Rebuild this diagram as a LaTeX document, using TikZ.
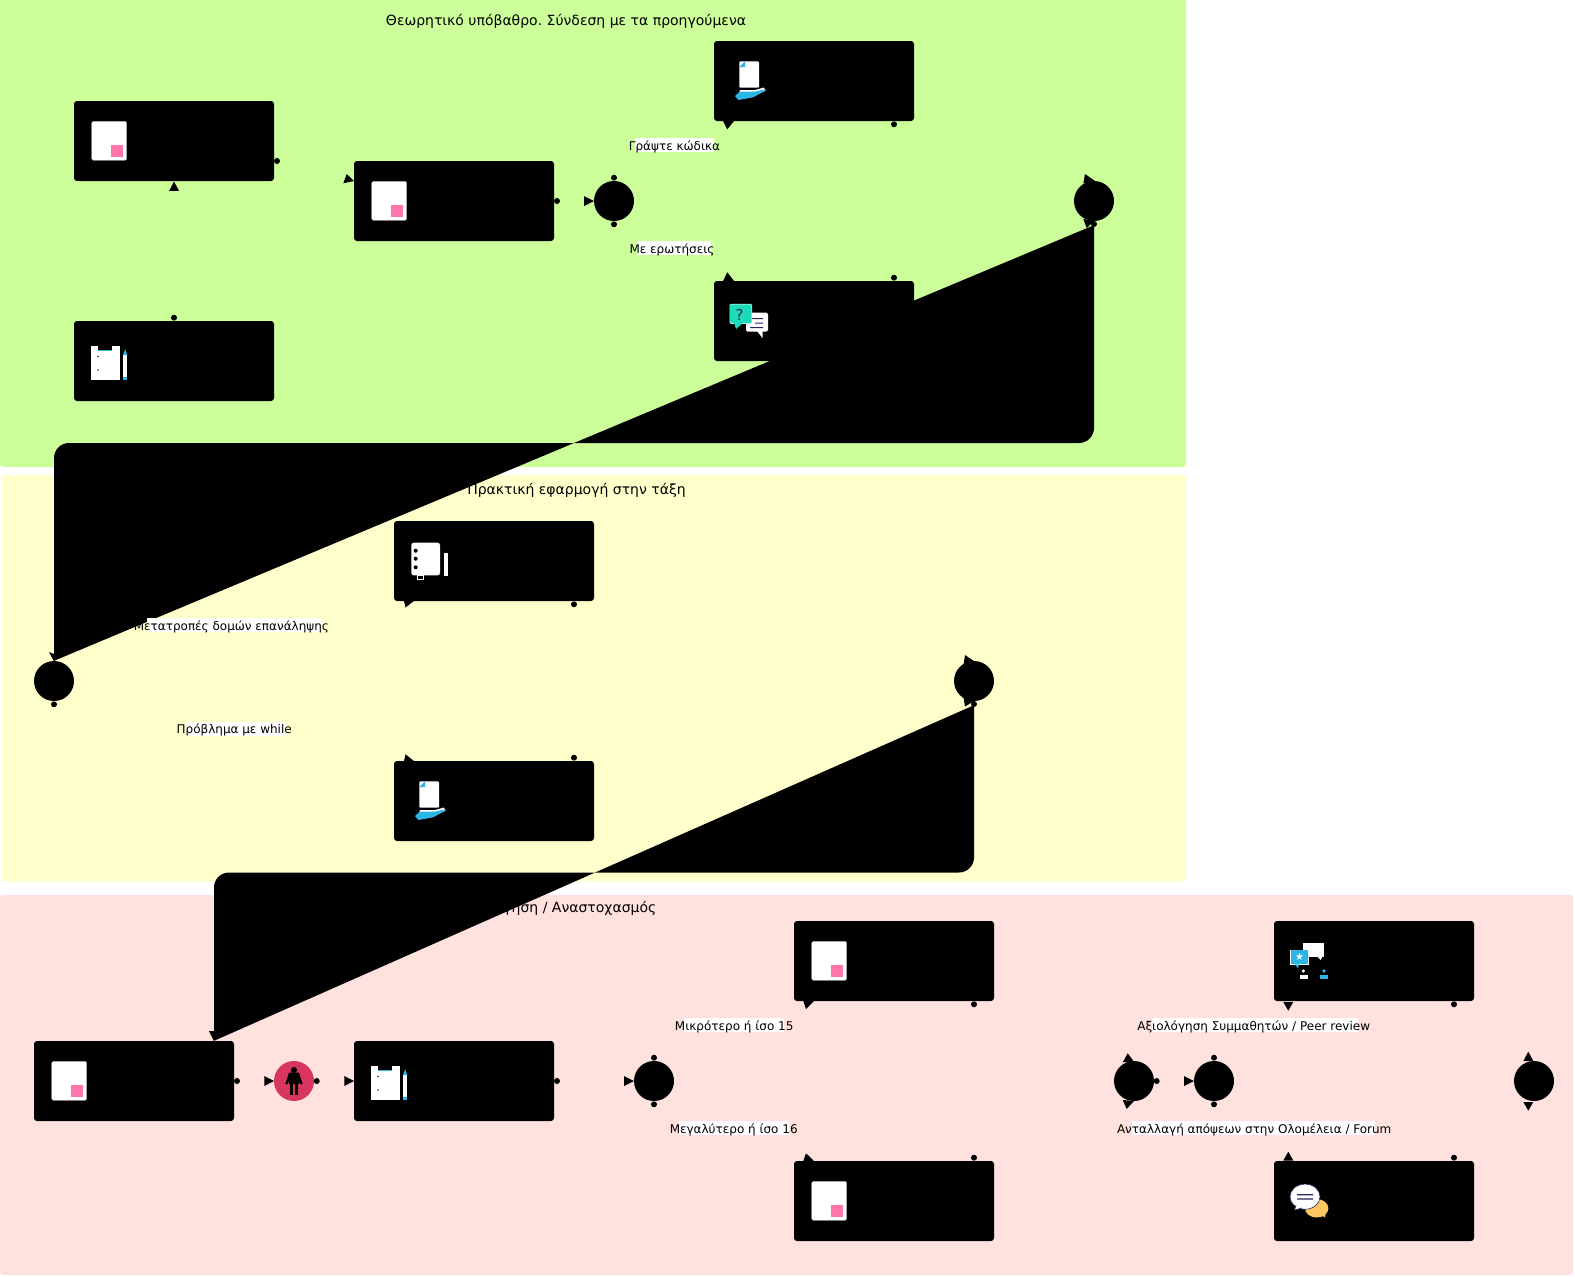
\documentclass[tikz,border=0pt]{standalone}
\usepackage{fontspec}
\setmainfont{DejaVu Sans}
\usetikzlibrary{calc}
\definecolor{bandgreen}{HTML}{CCFF99}
\definecolor{bandyellow}{HTML}{FFFFCC}
\definecolor{bandpink}{HTML}{FFE1DE}
\definecolor{iconpink}{HTML}{FF77AA}
\definecolor{iconblue}{HTML}{2BB6E6}
\definecolor{iconteal}{HTML}{1DDBB9}
\definecolor{iconnavy}{HTML}{26265E}
\definecolor{iconyellow}{HTML}{FFC75F}
\definecolor{humanred}{HTML}{D9365F}
\tikzset{
  x=1pt,y=-1pt,
  band/.style={rounded corners=3pt},
  title/.style={font=\fontsize{14}{16}\selectfont\frenchspacing,inner sep=0pt,text=black},
  edgelabel/.style={font=\fontsize{12}{14}\selectfont,inner sep=0pt,text=black},
  taskbox/.style={draw=none,fill=black,rounded corners=3pt,minimum width=200pt,minimum height=80pt,inner sep=0pt},
  gate/.style={circle,draw=none,fill=black,minimum size=40pt,inner sep=0pt},
  human/.style={circle,draw=none,fill=humanred,minimum size=40pt,inner sep=0pt},
  flowfill/.style={fill=black,draw=none},
  tip/.style={fill=black,draw=none},
  dotend/.style={fill=black,draw=none},
  docicon/.pic={
    \fill[white,draw=black!30,line width=.3pt,rounded corners=1.5pt] (17.7,20.3) rectangle (52.7,59.3);
    \fill[iconpink] (37,44) rectangle (49.3,55.7);
  },
  clipicon/.pic={
    \fill[white] (16.7,25) rectangle (46,59.3);
    \fill[black] (24.3,24.5) rectangle (38.3,29);
    \fill[iconblue] (24.3,29) rectangle (38.3,29.7);
    \fill[black!80] (24,35.5) circle (.8);
    \fill[black!80] (24,49) circle (.8);
    \fill[white] (49,34) rectangle (53.3,55.7);
    \fill[iconblue] (49,34) -- (51.2,28.3) -- (53.3,34) -- cycle;
    \fill[iconblue] (49,56) rectangle (53.3,59.3);
  },
  handicon/.pic={
    \fill[white,rounded corners=1pt] (25.3,20.3) rectangle (45,46.7);
    \fill[iconblue] (25.3,26) -- (31,20.3) -- (31,26) -- cycle;
    \fill[white] (26,49) -- (41,49) -- (50,46.5) -- (51.5,49.7) -- (40,55) -- (24,55) -- cycle;
    \fill[iconblue] (21,55) -- (26,50.5) -- (41,50.5) -- (50,48.5) -- (51,49.7) -- (39.3,56.3) -- (24.3,59) -- cycle;
  },
  askicon/.pic={
    \fill[white,rounded corners=1.5pt] (32,31.7) rectangle (54,50.7);
    \fill[white] (43,50) -- (48.7,57.3) -- (48.7,50) -- cycle;
    \fill[iconnavy] (38,37) rectangle (49,38) (41,41.5) rectangle (49,42.5) (36,46) rectangle (49,47);
    \fill[white,rounded corners=1.5pt] (15.5,22.8) rectangle (38.2,42.8);
    \fill[iconteal,rounded corners=1.5pt] (16,23.3) rectangle (37.7,42.3);
    \fill[iconteal] (20,42) -- (22,48) -- (29,42) -- cycle;
    \node[inner sep=0pt,text=iconnavy,font=\fontsize{15}{15}\selectfont] at (25.5,33.5) {?};
  },
  bookicon/.pic={
    \fill[white,rounded corners=2.5pt] (17.3,21.7) rectangle (46,54.3);
    \fill[black] (21.7,29.7) circle (2) (21.7,37.7) circle (2) (21.7,46.3) circle (2);
    \fill[white] (50,31.7) rectangle (54,55);
    \draw[white,line width=.7pt] (23,54.3) rectangle (29,58);
  },
  peericon/.pic={
    \fill[white] (29,22.3) rectangle (50,35.7);
    \fill[white] (43.3,35.7) -- (48.3,35.7) -- (46.7,39) -- cycle;
    \fill[white] (16.2,28.5) rectangle (34.5,43.8);
    \fill[iconblue] (17,29.3) rectangle (34,43.3);
    \fill[iconblue] (20.7,43.3) -- (25,43.3) -- (24,47.3) -- cycle;
    \node[inner sep=0pt,text=white,font=\fontsize{10}{10}\selectfont] at (25.5,36) {★};
    \fill[white] (29.3,50) circle (1.8);
    \fill[white] (25.7,54.3) rectangle (34,58);
    \fill[iconblue] (50,50) circle (1.8);
    \fill[iconblue] (46,54.3) rectangle (54.3,58);
  },
  forumicon/.pic={
    \fill[iconyellow] (42.7,47.3) ellipse (11.7 and 9.2);
    \fill[iconyellow] (47,54) -- (51,56.5) -- (52,50) -- cycle;
    \fill[white,draw=iconnavy,line width=.6pt] (31,35.7) ellipse (15 and 12.6);
    \fill[white,draw=iconnavy,line width=.6pt] (22,44) -- (20.5,49) -- (28,47);
    \fill[iconnavy] (23,33) rectangle (39,34.3) (23,37.3) rectangle (39,38.6);
  },
  manicon/.pic={
    \fill[black] (0,-11) circle (3);
    \fill[black] (-5,-8.3) -- (5,-8.3) -- (8.7,3) -- (6.7,3.5) -- (5,0) -- (5,3) -- (-5,3) -- (-5,0) -- (-6.7,3.5) -- (-8.7,3) -- cycle;
    \fill[black] (-4,3) rectangle (-.7,14);
    \fill[black] (.7,3) rectangle (4,14);
  },
}
\newcommand{\flowdot}[2]{\fill[dotend] (#1,#2) circle (3);}
\newcommand{\flowtip}[6]{\fill[tip] (#1,#2) -- (#3,#4) -- (#5,#6) -- cycle;}
\newcommand{\whitelabel}[9]{%
  \fill[white] (#3,#4) rectangle (#5,#6);
  \node[edgelabel] (#1) at (#7,#8) {#9};}
\begin{document}
\begin{tikzpicture}
\useasboundingbox (0,0) rectangle (1575,1277);
% bands
\fill[bandgreen,band] (0,-4) rectangle (1186,467);
\fill[bandyellow,band] (2,475) rectangle (1186,881.5);
\fill[bandpink,band] (0,895) rectangle (1573,1275);
\node[title] (t1) at (566,21.5) {Θεωρητικό υπόβαθρο. Σύνδεση με τα προηγούμενα};
\node[title] (t2) at (576.5,490.5) {Πρακτική εφαρμογή στην τάξη};
\node[title,anchor=east] (t3) at (656.5,908) {Αξιολόγηση / Αναστοχασμός};
% gateways
\node[gate] (g1) at (614,201) {};
\node[gate] (g2) at (1094,201) {};
\node[gate] (g3) at (54,681) {};
\node[gate] (g4) at (974,681) {};
\node[gate] (g5) at (654,1081) {};
\node[gate] (g6) at (1134,1081) {};
\node[gate] (g7) at (1214,1081) {};
\node[gate] (g8) at (1534,1081) {};
\node[human] (man) at (294,1081) {};
\pic at (294,1081) {manicon};
% large filled flows
\coordinate (f1a) at (1094,443);
\coordinate (f1b) at (54,443);
\coordinate (f2a) at (974,872.5);
\coordinate (f2b) at (214,872.5);
% tasks
\node[taskbox] (a) at (174,141) {};
\node[taskbox] (e) at (174,361) {};
\node[taskbox] (b) at (454,201) {};
\node[taskbox] (c) at (814,81) {};
\node[taskbox] (d) at (814,321) {};
\node[taskbox] (f) at (494,561) {};
\node[taskbox] (h) at (494,801) {};
\node[taskbox] (j) at (134,1081) {};
\node[taskbox] (k) at (454,1081) {};
\node[taskbox] (m) at (894,961) {};
\node[taskbox] (n) at (894,1201) {};
\node[taskbox] (p) at (1374,961) {};
\node[taskbox] (q) at (1374,1201) {};
\fill[flowfill] ($(g2.south)+(0,4)$) -- ($(f1a)+(0,-15)$) arc[start angle=0,end angle=90,radius=15] -- ($(f1b)+(15,0)$) arc[start angle=-90,end angle=-180,radius=15] -- (g3.north) -- cycle;
\fill[flowfill] ($(g4.south)+(0,4)$) -- ($(f2a)+(0,-15)$) arc[start angle=0,end angle=90,radius=15] -- ($(f2b)+(15,0)$) arc[start angle=-90,end angle=-180,radius=15] -- (j.north east -| f2b) -- cycle;
% icons
\pic at (74,101) {docicon};
\pic at (354,161) {docicon};
\pic at (74,321) {clipicon};
\pic at (714,41) {handicon};
\pic at (714,281) {askicon};
\pic at (394,521) {bookicon};
\pic at (394,761) {handicon};
\pic at (34,1041) {docicon};
\pic at (354,1041) {clipicon};
\pic at (794,921) {docicon};
\pic at (794,1161) {docicon};
\pic at (1274,921) {peericon};
\pic at (1274,1161) {forumicon};
% end markers
\flowdot{277}{161}\flowdot{174}{317.7}\flowdot{557}{201}
\flowdot{614}{177.7}\flowdot{614}{224.3}
\flowdot{894}{124.3}\flowdot{894}{277.7}\flowdot{1094}{224}
\flowdot{54}{704.3}\flowdot{574}{604.3}\flowdot{574}{757.7}\flowdot{974}{704}
\flowdot{237}{1081}\flowdot{316.7}{1081}\flowdot{557}{1081}
\flowdot{654}{1057.7}\flowdot{654}{1104.3}
\flowdot{974}{1004.3}\flowdot{974}{1157.7}
\flowdot{1156.7}{1081}\flowdot{1214}{1057.7}\flowdot{1214}{1104.3}
\flowdot{1454}{1004.3}\flowdot{1454}{1157.7}
% arrow tips
\flowtip{169.2}{190.8}{179}{190.8}{174}{181.5}
\flowtip{343.3}{183.3}{346.7}{174}{354}{181}
\flowtip{584}{196}{584}{206}{594}{201}
\flowtip{723}{121}{734}{121}{727.3}{129.3}
\flowtip{723}{281}{734}{281}{727.3}{272.3}
\flowtip{1085}{174}{1083.3}{183.3}{1095}{181}
\flowtip{1083.3}{219}{1086.7}{228}{1094}{221}
\flowtip{49}{652}{59}{656}{54}{661.5}
\flowtip{404}{601}{414}{601}{405.5}{607.5}
\flowtip{404}{761}{414}{761}{405.5}{754.3}
\flowtip{965}{655}{963.5}{665}{975}{661.7}
\flowtip{963.5}{697}{965}{706.6}{974}{701}
\flowtip{209}{1031}{218.5}{1031}{214}{1041}
\flowtip{264.3}{1076}{264.3}{1086}{274}{1081}
\flowtip{344.3}{1076}{344.3}{1086}{354}{1081}
\flowtip{624}{1076}{624}{1086}{634}{1081}
\flowtip{803.3}{1001}{814}{1001}{806}{1009}
\flowtip{803.3}{1161}{814}{1161}{806}{1153.3}
\flowtip{1127.7}{1053.3}{1122.7}{1062.3}{1134}{1061.7}
\flowtip{1122.7}{1100}{1126.7}{1109}{1134}{1101}
\flowtip{1184}{1076}{1184}{1086}{1194}{1081}
\flowtip{1283.3}{1002}{1293.3}{1002}{1288.3}{1010.7}
\flowtip{1283.3}{1160.5}{1293.3}{1160.5}{1288.3}{1151.7}
\flowtip{1523.3}{1061}{1533.3}{1061}{1528.3}{1051.7}
\flowtip{1523.3}{1102}{1533.3}{1102}{1528.3}{1110.7}
% labels
\whitelabel{l1}{}{634.7}{138.3}{714}{151.7}{674.5}{147}{Γράψτε κώδικα}
\whitelabel{l2}{}{637.3}{241}{711}{255}{672}{249.7}{Με ερωτήσεις}
\whitelabel{l3}{}{147}{618}{321.6}{631.7}{231.4}{626.7}{Μετατροπές δομών επανάληψης}
\whitelabel{l4}{}{188}{722}{284.8}{735.5}{234.2}{730}{Πρόβλημα με while}
\whitelabel{l5}{}{684}{1018}{784.3}{1031.7}{734.2}{1026.7}{Μικρότερο ή ίσο 15}
\whitelabel{l6}{}{678.7}{1121.3}{789.3}{1135}{733.7}{1129.7}{Μεγαλύτερο ή ίσο 16}
\whitelabel{l7}{}{1151.7}{1018.3}{1358.3}{1031.7}{1253.7}{1026.7}{Αξιολόγηση Συμμαθητών / Peer review}
\whitelabel{l8}{}{1131.7}{1121.3}{1375}{1135}{1254.2}{1129.7}{Ανταλλαγή απόψεων στην Ολομέλεια / Forum}
\end{tikzpicture}
\end{document}
